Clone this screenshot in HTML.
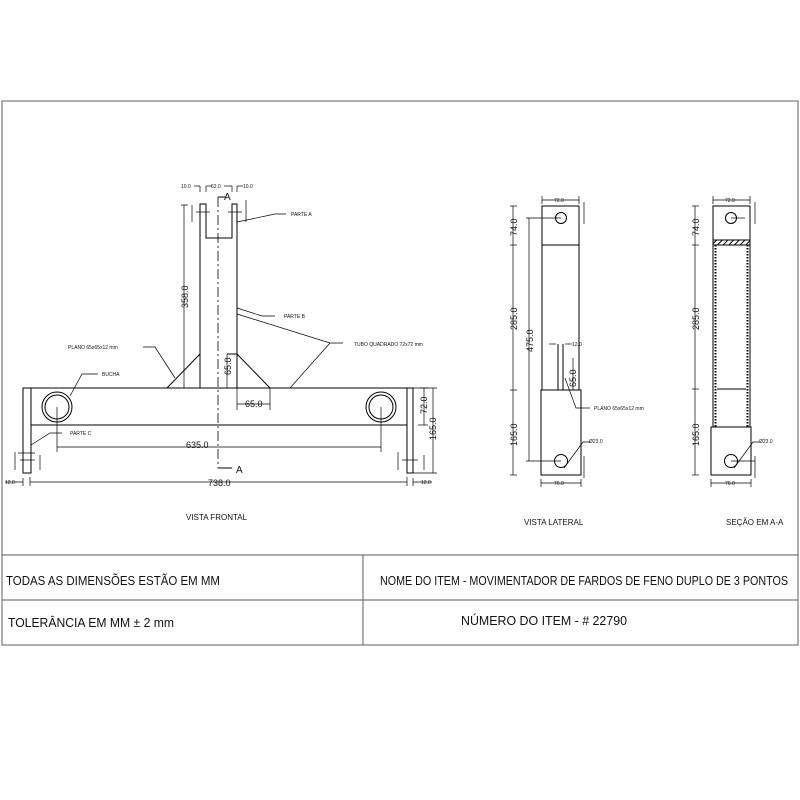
<!DOCTYPE html>
<html><head><meta charset="utf-8"><style>
html,body{margin:0;padding:0;background:#fff;width:800px;height:800px;overflow:hidden}
svg{display:block}
text{font-family:"Liberation Sans",sans-serif;fill:#111}
.s{font-size:5px}
.m{font-size:9px}
.t{font-size:12.5px}
</style></head><body>
<svg width="800" height="800" viewBox="0 0 800 800" xmlns="http://www.w3.org/2000/svg">
<defs>
<pattern id="h" width="4" height="4" patternUnits="userSpaceOnUse" patternTransform="rotate(45)">
<rect width="4" height="4" fill="#fff"/><line x1="0" y1="0" x2="0" y2="4" stroke="#000" stroke-width="2"/></pattern>
</defs>
<!-- frame -->
<g stroke="#777" stroke-width="1.2" fill="none">
<rect x="2" y="101" width="796" height="544"/>
<line x1="2" y1="555" x2="798" y2="555"/>
<line x1="2" y1="600" x2="798" y2="600"/>
<line x1="363" y1="555" x2="363" y2="645"/>
</g>
<text class="t" x="6" y="585" textLength="214" lengthAdjust="spacingAndGlyphs">TODAS AS DIMENSÕES ESTÃO EM MM</text>
<text class="t" x="380" y="585" textLength="408" lengthAdjust="spacingAndGlyphs">NOME DO ITEM - MOVIMENTADOR DE FARDOS DE FENO DUPLO DE 3 PONTOS</text>
<text class="t" x="8" y="627" textLength="166" lengthAdjust="spacingAndGlyphs">TOLERÂNCIA EM MM ± 2 mm</text>
<text class="t" x="461" y="625" textLength="166" lengthAdjust="spacingAndGlyphs">NÚMERO DO ITEM - # 22790</text>

<g stroke="#000" stroke-width="1" fill="none">
<!-- FRONT VIEW -->
<rect x="23" y="388" width="8" height="85"/>
<rect x="407" y="388" width="6" height="85"/>
<rect x="31" y="388" width="376" height="37"/>
<polyline points="200,388 200,204 206,204 206,238 232,238 232,204 237,204 237,388"/>
<line x1="200" y1="215" x2="200" y2="215"/>
<circle cx="57" cy="407" r="15"/><circle cx="57" cy="407" r="12"/>
<circle cx="381" cy="407" r="15"/><circle cx="381" cy="407" r="12"/>
<line x1="200" y1="354" x2="167" y2="388"/>
<line x1="237" y1="354" x2="270" y2="388"/>
<line x1="227" y1="354" x2="237" y2="354"/>
<line x1="218" y1="197" x2="218" y2="468" stroke-dasharray="10,3,2,3" stroke-width="0.8"/>
<polyline points="218,197 226,197"/><polyline points="218,468 232,468"/>
<!-- dims -->
<g stroke-width="0.7">
<line x1="184" y1="205" x2="184" y2="388"/><line x1="181" y1="205" x2="188" y2="205"/>
<line x1="227" y1="354" x2="227" y2="388"/>
<line x1="237" y1="404" x2="270" y2="404"/><line x1="237" y1="388" x2="237" y2="410"/><line x1="270" y1="388" x2="270" y2="410"/>
<line x1="57" y1="407" x2="57" y2="452"/><line x1="381" y1="407" x2="381" y2="452"/>
<line x1="57" y1="447" x2="381" y2="447"/>
<line x1="30" y1="482" x2="407" y2="482"/>
<line x1="30" y1="477" x2="30" y2="486"/><line x1="407" y1="477" x2="407" y2="486"/>
<line x1="23" y1="478" x2="23" y2="486"/><line x1="413" y1="478" x2="413" y2="486"/>
<line x1="5" y1="482" x2="23" y2="482"/><line x1="413" y1="482" x2="432" y2="482"/>
<line x1="420" y1="388" x2="428" y2="388"/><line x1="424" y1="388" x2="424" y2="425"/><line x1="418" y1="425" x2="428" y2="425"/>
<line x1="433" y1="388" x2="433" y2="473"/><line x1="413" y1="473" x2="437" y2="473"/><line x1="413" y1="388" x2="437" y2="388"/>
<line x1="15" y1="452" x2="15" y2="470"/><line x1="18" y1="453" x2="35" y2="453"/><line x1="20" y1="460" x2="35" y2="460"/>
<line x1="40" y1="455" x2="40" y2="470"/>
<line x1="398" y1="452" x2="398" y2="470"/><line x1="402" y1="460" x2="418" y2="460"/><line x1="424" y1="455" x2="424" y2="470"/>
<line x1="192" y1="205" x2="192" y2="222"/><line x1="196" y1="212" x2="210" y2="212"/>
<line x1="246" y1="200" x2="246" y2="222"/><line x1="228" y1="212" x2="242" y2="212"/>
<line x1="200" y1="186" x2="200" y2="192"/><line x1="206" y1="186" x2="206" y2="192"/><line x1="232" y1="186" x2="232" y2="192"/><line x1="237" y1="186" x2="237" y2="192"/>
<line x1="194" y1="186" x2="200" y2="186"/><line x1="206" y1="186" x2="212" y2="186"/><line x1="224" y1="186" x2="232" y2="186"/><line x1="237" y1="186" x2="243" y2="186"/>
</g>
<!-- leaders -->
<polyline points="237,222 275,214 286,214" stroke-width="0.7"/>
<polyline points="237,308 262,316 275,316" stroke-width="0.7"/>
<polyline points="237,314 330,343 343,343" stroke-width="0.7"/>
<polyline points="290,388 330,343" stroke-width="0.7"/>
<polyline points="143,347 155,347 175,378" stroke-width="0.7"/>
<polyline points="70,396 82,374 98,374" stroke-width="0.7"/>
<polyline points="31,445 50,433 62,433" stroke-width="0.7"/>

<!-- LATERAL VIEW -->
<rect x="542" y="206" width="37" height="184"/>
<line x1="542" y1="245" x2="579" y2="245"/>
<rect x="541" y="390" width="40" height="85"/>
<circle cx="561" cy="218" r="5.5"/><circle cx="561" cy="461" r="6.5"/>
<line x1="558" y1="344" x2="558" y2="390"/><line x1="563" y1="344" x2="563" y2="390"/>
<g stroke-width="0.7">
<line x1="513" y1="206" x2="513" y2="475"/>
<line x1="510" y1="206" x2="517" y2="206"/><line x1="510" y1="245" x2="517" y2="245"/><line x1="510" y1="390" x2="517" y2="390"/><line x1="510" y1="475" x2="517" y2="475"/>
<line x1="529" y1="218" x2="529" y2="461"/><line x1="526" y1="218" x2="561" y2="218"/><line x1="526" y1="461" x2="561" y2="461"/>
<line x1="542" y1="200" x2="579" y2="200"/><line x1="542" y1="196" x2="542" y2="204"/><line x1="579" y1="196" x2="579" y2="204"/>
<line x1="541" y1="483" x2="581" y2="483"/><line x1="541" y1="479" x2="541" y2="487"/><line x1="581" y1="479" x2="581" y2="487"/>
<line x1="584" y1="202" x2="584" y2="224"/><line x1="584" y1="456" x2="584" y2="478"/>
<line x1="549" y1="344" x2="556" y2="344"/><line x1="565" y1="344" x2="572" y2="344"/>
<line x1="573" y1="358" x2="573" y2="390"/>
<polyline points="565,378 576,408 590,408"/>
<polyline points="564,468 583,442 590,442"/>
</g>

<!-- SECTION -->
<rect x="713" y="206" width="37" height="221"/>
<rect x="713" y="240" width="37" height="5" fill="url(#h)"/>
<line x1="715.5" y1="245" x2="715.5" y2="427" stroke-dasharray="1.5,1.5" stroke-width="2"/>
<line x1="747.5" y1="245" x2="747.5" y2="427" stroke-dasharray="1.5,1.5" stroke-width="2"/>
<line x1="717" y1="389" x2="746" y2="389"/>
<rect x="711" y="427" width="40" height="48"/>
<circle cx="731" cy="218" r="5.5"/><circle cx="731" cy="461" r="6.5"/>
<g stroke-width="0.7">
<line x1="695" y1="206" x2="695" y2="475"/>
<line x1="692" y1="206" x2="699" y2="206"/><line x1="692" y1="245" x2="699" y2="245"/><line x1="692" y1="389" x2="699" y2="389"/><line x1="692" y1="475" x2="699" y2="475"/>
<line x1="713" y1="200" x2="750" y2="200"/><line x1="713" y1="196" x2="713" y2="204"/><line x1="750" y1="196" x2="750" y2="204"/>
<line x1="711" y1="483" x2="751" y2="483"/><line x1="711" y1="479" x2="711" y2="487"/><line x1="751" y1="479" x2="751" y2="487"/>
<line x1="755" y1="202" x2="755" y2="224"/><line x1="755" y1="456" x2="755" y2="478"/>
<line x1="731" y1="218" x2="745" y2="218"/><line x1="731" y1="461" x2="755" y2="461"/>
<polyline points="734,468 753,442 759,442"/>
</g>
</g>

<!-- front labels -->
<text class="s" x="181" y="188">10.0</text><text class="s" x="211" y="188">62.0</text><text class="s" x="243" y="188">10.0</text>
<text x="224" y="200" style="font-size:10px">A</text>
<text x="236" y="473" style="font-size:10px">A</text>
<text class="s" x="291" y="216">PARTE A</text>
<text class="s" x="284" y="318">PARTE B</text>
<text class="s" x="354" y="346">TUBO QUADRADO 72x72 mm</text>
<text class="s" x="68" y="349">PLANO 65x65x12 mm</text>
<text class="s" x="102" y="376">BUCHA</text>
<text class="s" x="70" y="435">PARTE C</text>
<text class="m" x="245" y="407">65.0</text>
<text class="m" x="186" y="448">635.0</text>
<text class="m" x="208" y="486">738.0</text>
<text class="s" x="5" y="484">12.0</text><text class="s" x="421" y="484">12.0</text>
<text class="m" transform="translate(188,308) rotate(-90)">358.0</text>
<text class="m" transform="translate(231,375) rotate(-90)">65.0</text>
<text class="m" transform="translate(427,414) rotate(-90)">72.0</text>
<text class="m" transform="translate(436,440) rotate(-90)">165.0</text>
<text class="s" x="186" y="520" style="font-size:8px">VISTA FRONTAL</text>

<!-- lateral labels -->
<text class="s" x="554" y="202">72.0</text>
<text class="s" x="554" y="485">76.0</text>
<text class="s" x="572" y="346">12.0</text>
<text class="s" x="594" y="410">PLANO 65x65x12 mm</text>
<text class="s" x="589" y="443">Ø23.0</text>
<text class="m" transform="translate(517,236) rotate(-90)">74.0</text>
<text class="m" transform="translate(517,330) rotate(-90)">285.0</text>
<text class="m" transform="translate(533,352) rotate(-90)">475.0</text>
<text class="m" transform="translate(576,387) rotate(-90)">65.0</text>
<text class="m" transform="translate(517,446) rotate(-90)">165.0</text>
<text class="s" x="524" y="525" style="font-size:8px">VISTA LATERAL</text>

<!-- section labels -->
<text class="s" x="725" y="202">72.0</text>
<text class="s" x="725" y="485">76.0</text>
<text class="s" x="759" y="443">Ø23.0</text>
<text class="m" transform="translate(699,236) rotate(-90)">74.0</text>
<text class="m" transform="translate(699,330) rotate(-90)">285.0</text>
<text class="m" transform="translate(699,446) rotate(-90)">165.0</text>
<text class="s" x="726" y="525" style="font-size:8px">SEÇÃO EM A-A</text>
</svg>
</body></html>
